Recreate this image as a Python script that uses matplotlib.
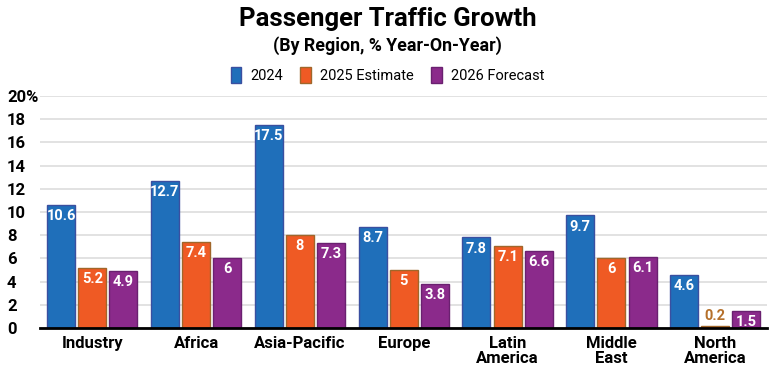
import matplotlib.pyplot as plt
import numpy as np

regions = ['Industry', 'Africa', 'Asia-Pacific', 'Europe', 'Latin\nAmerica', 'Middle\nEast', 'North\nAmerica']
vals_2024 = [10.6, 12.7, 17.5, 8.7, 7.8, 9.7, 4.6]
vals_2025 = [5.2, 7.4, 8, 5, 7.1, 6, 0.2]
vals_2026 = [4.9, 6, 7.3, 3.8, 6.6, 6.1, 1.5]
series = ['2024', '2025 Estimate', '2026 Forecast']
colors = ['#1f6fba', '#ef5a24', '#8b2a8b']
edges = ['#3a4fa0', '#a0662a', '#6a2070']

plt.rcParams['font.family'] = ['Roboto', 'DejaVu Sans']

fig = plt.figure(figsize=(7.75, 3.9), dpi=100)
ax = fig.add_axes([0.052, 0.159, 0.938, 0.595])

x = np.arange(len(regions))
w = 0.27
for i, (vals, name) in enumerate(zip([vals_2024, vals_2025, vals_2026], series)):
    pos = x + (i - 1) * (w + 0.03)
    ax.bar(pos, vals, width=w, color=colors[i], edgecolor=edges[i], linewidth=1, label=name, zorder=3)
    for p, v in zip(pos, vals):
        lbl = f'{v:g}'
        if v < 1:
            ax.text(p, v + 0.25, lbl, ha='center', va='bottom', color='#b5702a',
                    fontsize=10.5, fontweight='bold', zorder=4)
        else:
            ax.text(p, v - 0.35, lbl, ha='center', va='top', color='white',
                    fontsize=10.5, fontweight='bold', zorder=4)

ax.set_xlim(-0.5, len(regions) - 0.5)
ax.set_ylim(0, 20)
ax.set_yticks(range(0, 21, 2))
ax.set_yticklabels([str(t) if t < 20 else '20%' for t in range(0, 21, 2)])
ax.set_xticks(x)
ax.set_xticklabels(regions, fontsize=12, fontweight='bold', linespacing=1.0)
for lab in ax.get_yticklabels():
    lab.set_fontweight('bold')
    lab.set_fontsize(12)
    lab.set_horizontalalignment('left')
ax.tick_params(axis='y', length=0, pad=24)
ax.tick_params(axis='x', length=0, pad=6)
ax.yaxis.grid(True, color='#dddddd', linewidth=1.2, zorder=0)
for s in ['top', 'right', 'left']:
    ax.spines[s].set_visible(False)
ax.spines['bottom'].set_linewidth(2)
ax.spines['bottom'].set_zorder(5)

fig.text(0.5, 0.952, 'Passenger Traffic Growth', ha='center', va='center', fontsize=18.5, fontweight='bold')
fig.text(0.5, 0.882, '(By Region, % Year-On-Year)', ha='center', va='center', fontsize=12.8, fontweight='bold')
fig.legend(loc='center', bbox_to_anchor=(0.5, 0.808), ncol=3, frameon=False, fontsize=10.5,
           handlelength=0.75, handleheight=1.3, columnspacing=1.2, handletextpad=0.6)

fig.savefig('out.png', dpi=100)
